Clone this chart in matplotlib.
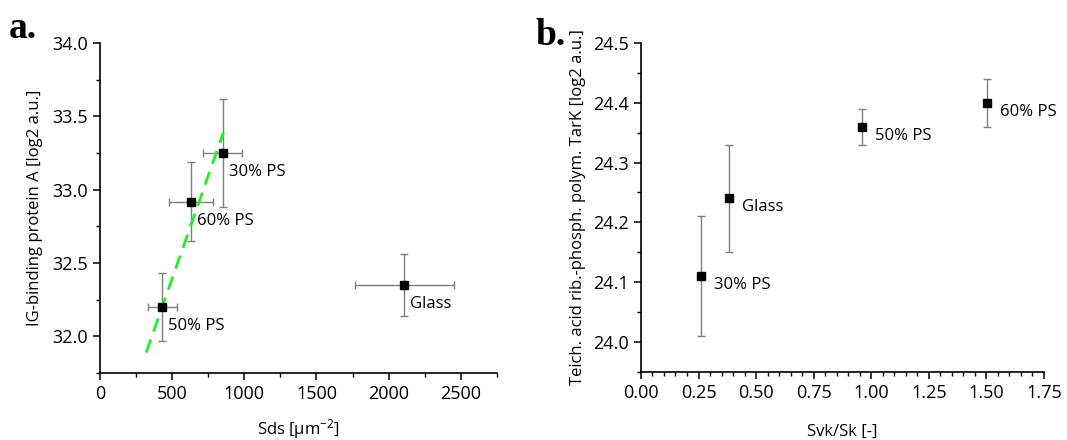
import matplotlib.pyplot as plt
from matplotlib.ticker import MultipleLocator

plt.rcParams['font.family'] = ['Open Sans', 'DejaVu Sans']
plt.rcParams['mathtext.fontset'] = 'custom'
plt.rcParams['mathtext.rm'] = 'Open Sans'
plt.rcParams['mathtext.default'] = 'regular'

# panel a: IG-binding protein A vs Sds
labelsA = ["50% PS", "60% PS", "30% PS", "Glass"]
sdsA = [431, 630, 849, 2109]
sdsErrA = [100, 155, 135, 345]
protA = [32.20, 32.92, 33.25, 32.35]
protErrA = [0.23, 0.27, 0.37, 0.21]
fitX = [320, 855]
fitY = [31.89, 33.39]

# panel b: teichoic acid TarK vs Svk/Sk
labelsB = ["30% PS", "Glass", "50% PS", "60% PS"]
svkB = [0.262, 0.382, 0.959, 1.504]
tarkB = [24.11, 24.24, 24.36, 24.40]
tarkErrB = [0.10, 0.09, 0.03, 0.04]

fig = plt.figure(figsize=(10.67, 4.4), dpi=100)
ax1 = fig.add_axes([0.0937, 0.152, 0.372, 0.750])
ax2 = fig.add_axes([0.6007, 0.1545, 0.3777, 0.748])

errStyle = dict(fmt="none", ecolor="#7f7f7f", elinewidth=1.0, capsize=3, capthick=1.0)

ax1.errorbar(sdsA, protA, xerr=sdsErrA, yerr=protErrA, **errStyle)
ax1.plot(fitX, fitY, color="#22ee22", lw=2, dashes=(5, 3), zorder=3)
ax1.plot(sdsA, protA, "s", color="black", ms=6, zorder=4)
for i in range(len(labelsA)):
    ax1.annotate(labelsA[i], (sdsA[i], protA[i]), xytext=(6, -19),
                 textcoords="offset pixels", fontsize=12, va="center", ha="left")

ax1.set_xlim(0, 2750)
ax1.set_ylim(31.75, 34.0)
ax1.xaxis.set_major_locator(MultipleLocator(500))
ax1.xaxis.set_minor_locator(MultipleLocator(250))
ax1.yaxis.set_major_locator(MultipleLocator(0.5))
ax1.yaxis.set_minor_locator(MultipleLocator(0.25))
ax1.yaxis.set_major_formatter(plt.FormatStrFormatter("%.1f"))
ax1.set_xlabel("Sds [µm$^{-2}$]", fontsize=12, labelpad=10)
ax1.set_ylabel("IG-binding protein A [log2 a.u.]", fontsize=12, labelpad=7)

ax2.errorbar(svkB, tarkB, yerr=tarkErrB, **errStyle)
ax2.plot(svkB, tarkB, "s", color="black", ms=6, zorder=4)
for i in range(len(labelsB)):
    ax2.annotate(labelsB[i], (svkB[i], tarkB[i]), xytext=(13, -9),
                 textcoords="offset pixels", fontsize=12, va="center", ha="left")

ax2.set_xlim(0, 1.75)
ax2.set_ylim(23.95, 24.5)
ax2.xaxis.set_major_locator(MultipleLocator(0.25))
ax2.xaxis.set_minor_locator(MultipleLocator(0.05))
ax2.yaxis.set_major_locator(MultipleLocator(0.1))
ax2.yaxis.set_minor_locator(MultipleLocator(0.05))
ax2.xaxis.set_major_formatter(plt.FormatStrFormatter("%.2f"))
ax2.yaxis.set_major_formatter(plt.FormatStrFormatter("%.1f"))
ax2.set_xlabel("Svk/Sk [-]", fontsize=12, labelpad=16)
ax2.set_ylabel("Teich. acid rib.-phosph. polym. TarK [log2 a.u.]", fontsize=12, labelpad=5)

for ax in [ax1, ax2]:
    ax.spines["top"].set_visible(False)
    ax.spines["right"].set_visible(False)
    ax.spines["left"].set_linewidth(1.2)
    ax.spines["bottom"].set_linewidth(1.2)
    ax.tick_params(which="major", direction="out", length=5, width=1.1, labelsize=13)
    ax.tick_params(which="minor", direction="out", length=3, width=1.0)

fig.text(0.008, 0.935, "a.", family="Liberation Serif", fontweight="bold", fontsize=27, va="center")
fig.text(0.502, 0.92, "b.", family="Liberation Serif", fontweight="bold", fontsize=27, va="center")

fig.savefig("out.png", dpi=100)
